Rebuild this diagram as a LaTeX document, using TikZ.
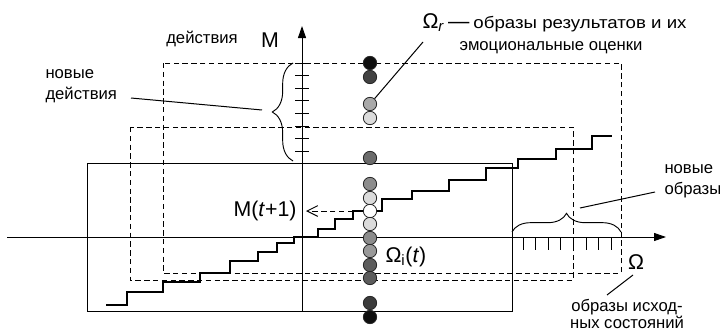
\documentclass[tikz,border=0pt]{standalone}
\usepackage{fontspec}
\usepackage{graphicx}
\setmainfont{Liberation Sans}
\usetikzlibrary{arrows.meta,decorations.pathreplacing}
\definecolor{g1}{gray}{0.06}
\definecolor{g2}{gray}{0.26}
\definecolor{g3}{gray}{0.66}
\definecolor{g4}{gray}{0.86}
\definecolor{g5}{gray}{0.42}
\definecolor{g6}{gray}{0.55}
\definecolor{g7}{gray}{0.60}
\definecolor{g8}{gray}{0.36}
\definecolor{g9}{gray}{0.23}
\begin{document}
\begin{tikzpicture}[x=0.75pt,y=-0.75pt,line width=0.75pt,
  dsh/.style={dash pattern=on 4pt off 2.6pt},
  txt/.style={font=\fontsize{12.5}{15}\selectfont,inner sep=0pt,align=left},
  big/.style={font=\fontsize{16}{18}\selectfont,inner sep=0pt},
  dot/.style={circle,draw=black!85,line width=0.6pt,minimum size=10pt,inner sep=0pt},
  lead/.style={line width=0.75pt},
  brc/.style={decorate,line width=0.7pt}]
\useasboundingbox (0,0) rectangle (720,332);

% rectangles
\draw (87,163) rectangle (512,311);
\draw[dsh] (163,63) rectangle (621,273);
\draw[dsh] (130,127) rectangle (573,280);

% staircase
\draw[line width=0.8pt] (106,305) -- (127,305) -- (127,292) -- (163,292) -- (163,282) -- (200,282) -- (200,273)
  -- (230,273) -- (230,261) -- (258,261) -- (258,252) -- (277,252) -- (277,243) -- (294,243) -- (294,237)
  -- (318,237) -- (318,229) -- (335,229) -- (335,219) -- (353,219) -- (353,211) -- (382,211) -- (382,199)
  -- (412,199) -- (412,191) -- (449,191) -- (449,180) -- (486,180) -- (486,168) -- (518,168) -- (518,159)
  -- (556,159) -- (556,149) -- (592,149) -- (592,136) -- (612,136);

% axes
\coordinate (ytop) at (302,26);
\coordinate (ybot) at (302,311);
\coordinate (xl) at (7,237);
\coordinate (xr) at (666,237);
\draw[-{Triangle[length=9pt,width=6pt]}] (ybot) -- (ytop);
\draw[-{Triangle[length=9pt,width=6pt]}] (xl) -- (xr);
\foreach \yy in {63,75.6,88.2,100.8,113.4,126,138.6,151.2} \draw (295,\yy) -- (309,\yy);
\foreach \xx in {523,535.6,548.2,560.8,573.4,586,598.6,611.2} \draw (\xx,237) -- (\xx,250);

% braces
\draw[brc,decoration={brace,amplitude=15.5pt}] (293,161) -- (293,63);
\draw[brc,decoration={brace,amplitude=14pt}] (512,232) -- (621,232);

% dashed arrow to M(t+1)
\node[big,anchor=east] (mt) at (297,211) {M(\textit{t}+1)};
\coordinate (da) at (353,211);
\coordinate (db) at (306,211);
\draw[dsh,-{Straight Barb[length=8pt,width=8pt]}] (da) -- (db);

% circles
\foreach \y/\c [count=\i] in {63/g1,77/g2,104/g3,118/g4,158/g5,184/g6,198/g4,211/white,224/g4,238/g6,251/g7,265/g8,278/g8,303/g9,317/g1}
  \node[dot,fill=\c] (c\i) at (370,\y) {};

% labels
\node[txt] (act) at (202,39) {действия};
\node[big] (mlab) at (270,40) {M};
\node[txt,anchor=north west] (na) at (45,69) {новые\\[0.6pt]действия};
\coordinate (naend) at (262,110);
\draw[lead] (131,98) -- (naend);

\node[anchor=base west,inner sep=0pt] (omr1) at (422,28) {{\fontsize{16}{18}\selectfont Ω\textsubscript{\textit{r}}\,—}\hspace{3pt}\scalebox{1.12}[1]{\fontsize{12.5}{15}\selectfont образы результатов и их}};
\node[txt,anchor=base west] (omr2) at (459,50) {эмоциональные оценки};
\draw[lead] (423,42) -- (c3);

\node[big,anchor=west] (omi) at (385,257) {Ω\textsubscript{i}(\textit{t})};

\node[txt,anchor=north west] (no) at (664,164) {новые\\[0.6pt]образы};
\coordinate (noend) at (580,208);
\draw[lead] (655,192) -- (noend);

\node[big] (om) at (636,262) {Ω};
\node[txt,align=center] (oi) at (627,314) {образы исход-\\[-2pt]ных состояний};
\draw[lead] (633,275) -- (607,295);
\end{tikzpicture}
\end{document}
